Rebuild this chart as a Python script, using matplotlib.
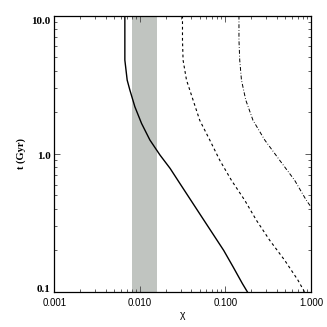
import matplotlib
matplotlib.use('Agg')
import matplotlib.pyplot as plt
import matplotlib.transforms as mtransforms

# shaded band in chi
band_lo = 0.008
band_hi = 0.016

# solid curve
solid_x = [0.00668, 0.00668, 0.00711, 0.00764, 0.00875, 0.01047, 0.0131, 0.0172, 0.0226,
           0.0294, 0.0530, 0.0955, 0.123, 0.158, 0.181]
solid_t = [10.0, 4.77, 3.42, 2.90, 2.19, 1.66, 1.26, 0.98, 0.784,
           0.610, 0.349, 0.200, 0.152, 0.115, 0.1]

# dashed curve
dash_x = [0.0315, 0.0315, 0.0320, 0.0351, 0.0419, 0.0501, 0.0656, 0.0858, 0.1175,
          0.168, 0.230, 0.329, 0.492, 0.703, 0.842]
dash_t = [10.0, 6.67, 4.77, 3.42, 2.45, 1.75, 1.26, 0.900, 0.644,
          0.462, 0.331, 0.237, 0.170, 0.122, 0.1]

# dash-dot curve
dd_x = [0.144, 0.144, 0.147, 0.154, 0.173, 0.210, 0.288, 0.430, 0.644, 0.881, 1.0]
dd_t = [10.0, 6.67, 4.77, 3.42, 2.45, 1.75, 1.26, 0.900, 0.644, 0.462, 0.413]

fig = plt.figure(figsize=(3.27, 3.27), dpi=100)
ax = fig.add_axes([0.166, 0.107, 0.785, 0.845])

ax.axvspan(band_lo, band_hi, color='#c0c4c0', lw=0)
ax.plot(solid_x, solid_t, color='black', lw=1.0)
ax.plot(dash_x, dash_t, color='black', lw=0.8, dashes=(2.5, 2.5))
ax.plot(dd_x, dd_t, color='black', lw=0.7, dashes=(4, 2, 0.8, 2))

ax.set_xscale('log')
ax.set_yscale('log')
ax.set_xlim(0.001, 1.0)
ax.set_ylim(0.1, 10.0)

ax.set_xticks([0.001, 0.01, 0.1, 1.0])
ax.set_xticklabels(['0.001', '0.010', '0.100', '1.000'], family='Liberation Sans', fontsize=7)
ax.set_yticks([0.1, 1.0, 10.0])
ax.set_yticklabels(['0.1', '1.0', '10.0'], family='Liberation Serif', fontweight='bold', fontsize=8)

ax.tick_params(which='both', direction='in', top=True, right=True, width=0.6, color='#444444')
ax.tick_params(which='major', length=4)
ax.tick_params(which='minor', length=2)
ax.tick_params(axis='x', which='major', pad=4.5)
ax.tick_params(axis='y', which='major', pad=2.5)
for s in ax.spines.values():
    s.set_linewidth(0.9)

# nudge the end labels inward like the original
shifts = [2.5, -1.5, -3.5]
for lab, dy in zip(ax.get_yticklabels(), shifts):
    lab.set_transform(lab.get_transform() + mtransforms.ScaledTranslation(0, dy / 72, fig.dpi_scale_trans))

ax.set_xlabel('χ', family='Liberation Sans', fontsize=7.5, labelpad=1)
ax.set_ylabel('t (Gyr)', family='Liberation Serif', fontweight='bold', fontsize=7.5, labelpad=4)

fig.savefig('out.png', dpi=100)
